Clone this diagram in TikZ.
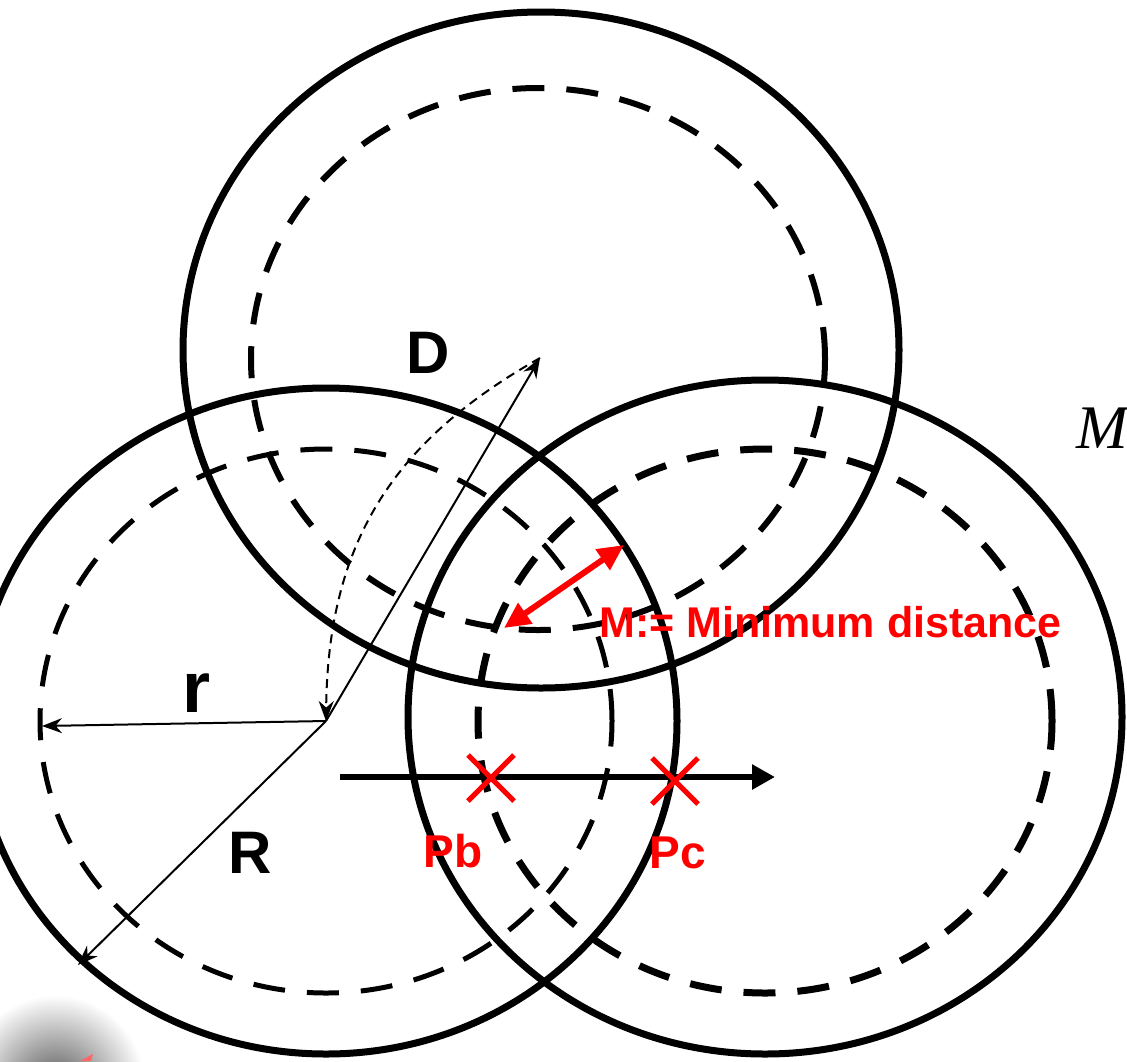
\documentclass[tikz,border=0pt]{standalone}
\usepackage{fontspec}
\setmainfont{Liberation Sans}
\newfontfamily\serifit{Liberation Serif}
\usetikzlibrary{arrows.meta}

\begin{document}
\begin{tikzpicture}[x=1pt,y=-1pt,
  lab/.style={font=\bfseries\fontsize{60}{60}\selectfont,inner sep=0pt,anchor=base},
  redlab/.style={font=\bfseries\fontsize{46}{46}\selectfont,text=red,inner sep=0pt,anchor=base},
  thinarr/.style={line width=2pt,-{Stealth[length=20pt,width=15pt]}},
  dashring/.style={dash pattern=on 32pt off 22pt}]
  \useasboundingbox (0,0) rectangle (1127,1061);
  % smudge in the corner
  \shade[inner color=black!65,outer color=white] (55,1085) circle (90);
  \fill[red!60] (80,1061) -- (93,1054) -- (91,1061) -- cycle;
  % centres
  \coordinate (ct) at (540,358);
  \coordinate (cl) at (326,721);
  \coordinate (cr) at (765,721);
  % outer circles (R)
  \draw[line width=7pt] (541,350) ellipse [x radius=358pt,y radius=338pt];
  \draw[line width=7pt] (cl) ellipse [x radius=351pt,y radius=333pt];
  \draw[line width=7pt] (cr)++(0,-4) ellipse [x radius=357pt,y radius=337pt];
  % inner circles (r)
  \draw[line width=6pt,dashring] (538,359) ellipse [x radius=287pt,y radius=271pt];
  \draw[line width=5pt,dashring] (cl) ellipse [x radius=286pt,y radius=272pt];
  \draw[line width=7pt,dashring] (cr) ellipse [x radius=287pt,y radius=272pt];
  % radii
  \coordinate (rend) at (42,726);
  \coordinate (Rend) at (78,965);
  \draw[thinarr] (cl) -- (rend);
  \draw[thinarr] (cl) -- (Rend);
  \draw[thinarr] (cl) -- (ct);
  \draw[thinarr,dash pattern=on 9pt off 6pt] (ct) .. controls (395,440) and (328,540) .. (cl);
  \node[lab] (labD) at (428,373) {D};
  \node[lab,font=\bfseries\fontsize{72}{72}\selectfont] (labr) at (197,712) {r};
  \node[lab] (labR) at (250,873) {R};
  % direction of travel
  \coordinate (ax0) at (340,777);
  \coordinate (ax1) at (775,777);
  \draw[line width=6pt,-{Triangle[length=23pt,width=24pt]}] (ax0) -- (ax1);
  % minimum distance
  \coordinate (m0) at (504,628);
  \coordinate (m1) at (624,545);
  \draw[red,line width=6pt,{Triangle[length=26pt,width=24pt]}-{Triangle[length=26pt,width=24pt]}] (m0) -- (m1);
  \node[redlab,anchor=base west,font=\bfseries\fontsize{43}{43}\selectfont] (labmin) at (599,637) {M:= Minimum distance};
  % points
  \coordinate (pb) at (491,778);
  \coordinate (pc) at (675,781);
  \foreach \p in {pb,pc}
    \draw[red,line width=5pt] (\p)+(-23,-23) -- +(23,23) (\p)+(-23,23) -- +(23,-23);
  \node[redlab] (labPb) at (453,867) {Pb};
  \node[redlab] (labPc) at (678,868) {Pc};
  \node[font=\serifit\itshape\fontsize{62}{62}\selectfont,inner sep=0pt,anchor=base west] (labM) at (1076,448) {M};
\end{tikzpicture}
\end{document}
